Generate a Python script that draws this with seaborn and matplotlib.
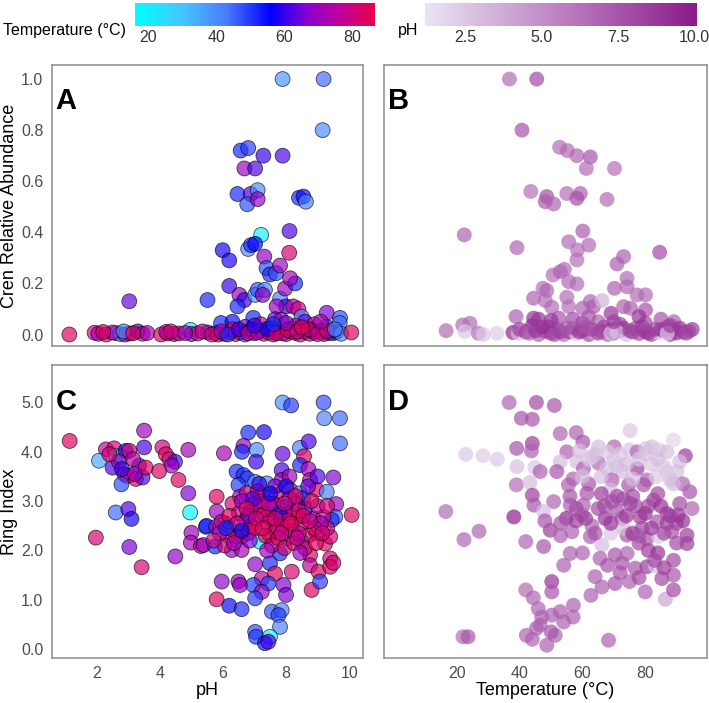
import numpy as np
import pandas as pd
import matplotlib
matplotlib.use("Agg")
import matplotlib.pyplot as plt
from matplotlib.colors import LinearSegmentedColormap, Normalize
from matplotlib.cm import ScalarMappable
import seaborn as sns

# panel A: pH vs cren relative abundance, coloured by temperature
ph_a = [7.89, 9.19, 9.16, 6.56, 6.80, 7.28, 7.89, 6.68, 7.02, 6.46, 6.88, 7.10, 6.77, 7.10, 8.41, 8.55, 8.63,
        7.21, 8.11, 5.99, 6.20, 6.80, 6.89, 7.02, 7.31, 8.10, 7.38, 7.49, 7.68, 7.81, 6.20, 5.51, 3.03, 6.52,
        6.68, 6.46, 7.02, 7.10, 7.33, 7.26, 7.81, 7.97, 8.29, 8.13, 8.00, 8.23, 8.39, 7.70, 9.29, 9.71, 8.49,
        5.94, 6.30, 6.96, 7.65, 7.85, 8.60, 9.28, 9.70, 7.20, 6.70, 8.30, 8.90,
        1.13, 1.93, 2.05, 2.30, 2.61, 2.75, 2.90, 3.05, 3.30, 3.45, 3.60, 4.04, 4.25, 4.45, 4.60, 4.97, 5.00,
        5.52, 5.75, 5.85, 6.05, 6.25, 6.40, 6.55, 6.70, 6.85, 7.00, 7.16, 7.30, 7.45, 7.60, 7.75, 7.90, 8.01,
        8.15, 8.30, 8.45, 8.60, 8.75, 8.90, 9.05, 9.20, 9.35, 9.49, 9.60, 9.75, 10.07, 6.90, 7.50, 8.20, 8.80,
        6.30, 5.20, 4.20, 2.50,
        2.20, 2.85, 3.15, 4.35, 4.80, 5.35, 5.65, 5.95, 6.15, 6.50, 6.80, 7.10, 7.40, 7.70, 8.05, 8.35, 8.70,
        9.00, 9.30, 9.55, 7.00, 8.00, 8.50, 7.60, 9.10]
cren_a = [1.00, 1.00, 0.80, 0.72, 0.73, 0.70, 0.70, 0.65, 0.65, 0.55, 0.55, 0.565, 0.51, 0.53, 0.535, 0.54, 0.52,
          0.39, 0.405, 0.33, 0.29, 0.335, 0.35, 0.355, 0.305, 0.32, 0.26, 0.235, 0.24, 0.27, 0.19, 0.135, 0.13, 0.155,
          0.135, 0.11, 0.155, 0.175, 0.175, 0.155, 0.14, 0.18, 0.20, 0.22, 0.11, 0.11, 0.10, 0.11, 0.085, 0.065, 0.07,
          0.045, 0.05, 0.065, 0.06, 0.057, 0.05, 0.03, 0.045, 0.04, 0.03, 0.035, 0.04,
          0.0, 0.007, 0.003, 0.0, 0.005, 0.002, 0.0, 0.004, 0.012, 0.003, 0.006, 0.0, 0.004, 0.002, 0.004, 0.018, 0.002,
          0.008, 0.005, 0.0, 0.003, 0.01, 0.002, 0.008, 0.0, 0.012, 0.005, 0.015, 0.003, 0.008, 0.0, 0.01, 0.004, 0.002,
          0.012, 0.006, 0.0, 0.01, 0.003, 0.008, 0.012, 0.002, 0.006, 0.005, 0.01, 0.003, 0.008, 0.02, 0.025, 0.022, 0.018,
          0.02, 0.004, 0.01, 0.008,
          0.01, 0.012, 0.005, 0.012, 0.006, 0.012, 0.0, 0.012, 0.0, 0.02, 0.005, 0.008, 0.022, 0.005, 0.018, 0.012, 0.02,
          0.002, 0.015, 0.02, 0.035, 0.045, 0.028, 0.04, 0.05]
temp_a = [38, 45, 40, 52, 50, 60, 62, 70, 62, 52, 62, 40, 48, 68, 52, 55, 42,
          20, 62, 58, 58, 40, 52, 55, 68, 82, 48, 52, 48, 70, 60, 52, 64, 70,
          60, 52, 38, 48, 42, 68, 42, 70, 52, 72, 60, 75, 80, 70, 66, 48, 42,
          52, 55, 52, 62, 70, 62, 60, 45, 78, 65, 72, 80,
          84, 82, 68, 80, 38, 35, 68, 78, 62, 78, 72, 84, 84, 70, 78, 20, 66,
          52, 52, 80, 78, 70, 84, 75, 50, 82, 82, 78, 84, 72, 80, 60, 84, 70,
          80, 84, 78, 82, 78, 84, 82, 75, 84, 52, 55, 40, 84, 55, 66, 84, 62,
          82, 78, 75, 72,
          84, 40, 84, 82, 72, 78, 84, 72, 52, 60, 78, 70, 55, 84, 84, 78, 84,
          80, 82, 42, 60, 66, 84, 52, 72]

# panel B: temperature vs cren relative abundance, coloured by pH
temp_b = [36.7, 45.4, 40.7, 52.7, 55.2, 58.2, 62.5, 61.2, 70.2, 43.5, 48.6, 48.1, 50.8, 55.0, 59.3, 58.2, 67.8,
          22.3, 39.1, 60.1, 55.6, 62.0, 58.4, 58.2, 73.1, 71.0, 84.6, 50.6, 52.9, 54.2, 55.6, 58.2, 47.4, 48.6,
          44.4, 48.1, 50.2, 55.0, 55.6, 74.2, 74.2, 70.2, 77.4, 80.1, 62.5, 60.1, 63.5, 66.2, 69.1, 73.1, 75.3,
          80.1, 38.8, 44.4, 52.4, 57.0, 89.1, 65.0, 72.0, 85.0,
          16.5, 21.8, 24.1, 22.5, 26.8, 28.4, 32.7, 37.8, 39.5, 42.0, 44.0, 46.0, 48.0, 50.0, 52.0, 54.0, 56.0,
          58.0, 60.0, 62.0, 64.0, 66.0, 68.0, 70.0, 72.0, 74.0, 76.0, 78.0, 80.0, 82.0, 84.0, 86.0, 88.0, 90.0,
          92.0, 94.0, 47.0, 57.0, 67.0, 77.0, 87.0, 63.0, 73.0, 83.0,
          40.0, 43.0, 45.0, 49.0, 51.0, 53.0, 55.0, 59.0, 61.0, 65.0, 69.0, 71.0, 75.0, 79.0, 81.0, 85.0, 89.0,
          91.0, 93.0, 95.0, 87.0, 69.0, 46.0, 50.0, 60.0, 70.0, 80.0, 78.0, 88.0, 62.0]
cren_b = [1.00, 1.00, 0.80, 0.733, 0.72, 0.70, 0.695, 0.65, 0.65, 0.56, 0.54, 0.52, 0.511, 0.552, 0.552, 0.533, 0.529,
          0.39, 0.34, 0.405, 0.363, 0.35, 0.331, 0.292, 0.305, 0.276, 0.322, 0.233, 0.246, 0.255, 0.207, 0.198, 0.181, 0.172,
          0.142, 0.133, 0.107, 0.146, 0.109, 0.22, 0.187, 0.181, 0.155, 0.155, 0.129, 0.103, 0.109, 0.133, 0.083, 0.109, 0.103,
          0.096, 0.07, 0.064, 0.064, 0.06, 0.05, 0.05, 0.04, 0.06,
          0.015, 0.037, 0.044, 0.012, 0.005, 0.0, 0.005, 0.008, 0.005, 0.01, 0.035, 0.0, 0.012, 0.005, 0.02, 0.0, 0.01,
          0.003, 0.015, 0.0, 0.008, 0.012, 0.0, 0.006, 0.015, 0.0, 0.01, 0.004, 0.012, 0.0, 0.008, 0.015, 0.0, 0.006,
          0.01, 0.012, 0.03, 0.025, 0.03, 0.025, 0.03, 0.02, 0.025, 0.02,
          0.02, 0.005, 0.015, 0.03, 0.0, 0.01, 0.025, 0.01, 0.03, 0.005, 0.02, 0.01, 0.015, 0.03, 0.005, 0.02, 0.015,
          0.025, 0.005, 0.02, 0.005, 0.005, 0.06, 0.055, 0.045, 0.05, 0.045, 0.07, 0.035, 0.07]
ph_b = [6.5, 8.0, 7.5, 6.5, 6.5, 6.8, 7.5, 6.5, 6.3, 6.3, 7.8, 7.2, 6.8, 6.3, 7.0, 7.8, 6.5,
        6.8, 6.8, 7.2, 6.5, 6.5, 6.3, 6.3, 7.0, 7.0, 8.0, 6.3, 7.0, 6.5, 6.5, 6.5, 6.3, 6.8,
        6.8, 6.5, 6.5, 6.5, 6.3, 6.5, 6.8, 7.0, 6.5, 6.5, 6.8, 6.8, 7.2, 3.5, 9.0, 7.0, 7.0,
        7.5, 7.0, 9.0, 7.5, 8.0, 7.0, 7.0, 8.0, 7.5,
        6.5, 6.5, 6.5, 2.5, 6.3, 2.5, 2.3, 9.5, 3.0, 8.0, 9.5, 7.0, 8.0, 9.0, 7.5, 6.5, 8.5,
        2.5, 7.5, 8.0, 3.0, 8.5, 7.0, 9.0, 8.0, 2.8, 8.5, 8.0, 9.0, 7.5, 3.0, 8.5, 8.0, 9.0,
        8.5, 7.5, 9.5, 7.0, 8.5, 8.0, 8.0, 8.5, 9.0, 8.0,
        8.5, 7.0, 8.8, 9.0, 8.0, 8.5, 7.5, 9.0, 7.5, 8.0, 8.5, 3.0, 8.0, 8.5, 8.8, 8.5, 8.0,
        9.0, 8.0, 8.5, 2.5, 2.8, 8.8, 9.0, 8.0, 8.5, 8.0, 9.0, 8.5, 7.5]

# panel C: pH vs ring index, coloured by temperature
ph_c = [1.14, 2.29, 2.55, 2.07, 2.60, 2.76, 2.92, 3.03, 3.50, 3.50, 2.50, 2.87, 2.97, 3.24, 3.34, 3.45, 3.55,
        2.78, 2.70, 3.15, 4.08, 4.19, 4.30, 4.48, 4.37, 3.98, 4.59, 4.90, 4.90, 4.96, 2.60, 3.00, 3.10, 1.97,
        3.03, 3.42, 4.49, 5.00, 4.98, 5.30, 5.46,
        7.89, 8.16, 9.19, 9.21, 9.71, 9.71, 6.80, 7.30, 6.65, 6.60, 6.03, 7.07, 7.05, 7.89, 8.44, 8.72, 8.57,
        8.44, 8.71, 8.76, 9.50, 7.86, 7.86, 8.11, 6.43, 6.65, 6.77, 6.49, 7.02, 7.39, 5.80, 6.54, 6.75, 7.23,
        7.70, 8.13, 8.44, 8.55, 8.97, 9.29, 9.59, 10.08, 9.56, 9.45, 8.00, 7.49, 7.02, 6.91, 5.80, 5.48, 5.78,
        6.06, 5.96, 6.22, 6.59, 6.80, 7.17, 7.55, 7.86, 8.39, 8.87, 9.19, 7.17, 5.38, 5.75, 6.28, 6.59, 7.49,
        7.81, 8.02, 8.50, 8.97, 9.24, 9.40, 8.76, 9.40, 8.76, 9.03, 9.40, 7.02, 7.49, 8.18, 7.65, 5.96, 6.49,
        6.54, 7.23, 7.44, 7.92, 6.96, 7.23, 7.02, 8.00, 8.81, 9.08, 5.80, 6.20, 6.59, 7.55, 7.86, 7.76, 7.81,
        7.02, 7.05, 7.49, 7.33, 7.44,
        6.30, 6.50, 6.70, 6.90, 7.10, 7.30, 7.40, 7.60, 7.70, 7.90, 8.10, 8.20, 8.30, 8.50, 8.60, 8.70, 8.90,
        9.00, 9.30, 6.40, 6.60, 6.80, 7.00, 7.20, 7.35, 7.55, 7.75, 7.95, 8.10, 8.25, 8.40, 8.60, 6.15, 6.05,
        5.90, 7.65, 8.00, 8.30, 7.10, 6.95, 9.10, 9.30, 8.80, 7.80, 8.05, 8.40,
        6.20, 6.45, 6.75, 7.05, 7.25, 7.45, 7.65, 7.85, 8.15, 8.35, 8.55, 8.75, 8.95, 9.15, 6.35, 6.85, 7.40,
        8.45, 7.95, 7.15, 7.50, 8.70, 9.00, 6.60, 5.70, 9.50, 6.10, 2.40, 2.80, 3.20]
ring_c = [4.22, 4.05, 4.07, 3.82, 3.92, 3.90, 4.02, 4.02, 4.43, 4.09, 3.68, 3.55, 3.51, 3.45, 3.72, 3.48, 3.68,
          3.34, 3.80, 3.85, 4.09, 3.95, 3.85, 3.80, 3.72, 3.61, 3.43, 4.04, 3.16, 2.77, 2.77, 2.84, 2.64, 2.26,
          2.07, 1.66, 1.88, 2.36, 2.16, 2.09, 2.48,
          5.00, 4.94, 5.00, 4.68, 4.68, 4.17, 4.39, 4.40, 4.12, 4.00, 3.97, 4.04, 3.80, 3.96, 4.08, 4.21, 3.91,
          3.73, 3.65, 3.43, 3.48, 3.63, 3.43, 3.50, 3.60, 3.53, 3.46, 3.33, 3.39, 3.36, 3.09, 3.09, 3.16, 3.12,
          3.12, 3.23, 3.16, 3.06, 3.23, 3.19, 2.94, 2.72, 2.68, 2.62, 2.89, 2.85, 2.85, 2.92, 2.79, 2.50, 2.48,
          2.55, 2.58, 2.45, 2.28, 2.35, 2.68, 2.62, 2.65, 2.68, 2.65, 2.68, 2.18, 2.11, 2.08, 2.01, 2.01, 2.31,
          1.94, 2.24, 2.18, 2.35, 2.14, 2.28, 1.91, 1.84, 1.70, 1.57, 1.67, 1.72, 1.74, 1.57, 1.53, 1.37, 1.37,
          1.30, 1.43, 1.33, 1.30, 1.30, 1.16, 1.03, 1.10, 1.20, 1.37, 1.01, 0.88, 0.81, 0.76, 0.79, 0.69, 0.45,
          0.35, 0.25, 0.25, 0.12, 0.15,
          2.95, 2.75, 2.60, 2.50, 2.90, 2.75, 2.55, 2.95, 2.40, 2.50, 2.75, 2.40, 2.95, 2.55, 2.85, 2.30, 2.45,
          2.90, 2.45, 2.30, 3.00, 2.70, 2.45, 3.00, 2.30, 2.10, 2.25, 2.05, 3.05, 2.15, 2.35, 2.05, 2.30, 2.10,
          2.35, 3.30, 3.30, 3.10, 3.20, 3.05, 2.55, 2.90, 3.00, 2.75, 2.60, 2.80,
          2.70, 2.55, 2.85, 2.65, 2.45, 2.95, 2.65, 2.35, 2.55, 2.25, 2.70, 2.60, 2.15, 2.35, 2.15, 2.20, 2.00,
          1.95, 2.95, 3.35, 3.15, 3.30, 3.50, 2.40, 2.20, 1.75, 2.45, 3.95, 3.65, 3.55]
temp_c = [84, 78, 82, 35, 30, 35, 58, 82, 70, 62, 62, 68, 80, 84, 64, 62, 84,
          48, 70, 75, 80, 84, 80, 62, 70, 84, 84, 72, 66, 18, 45, 62, 58, 82,
          65, 82, 68, 70, 72, 78, 52,
          40, 50, 48, 42, 45, 45, 52, 58, 68, 52, 72, 40, 60, 64, 42, 62, 84,
          52, 72, 72, 66, 62, 70, 72, 52, 52, 50, 50, 42, 42, 84, 72, 78, 70,
          84, 84, 42, 52, 84, 42, 70, 84, 45, 52, 55, 60, 84, 72, 70, 52, 70,
          80, 78, 52, 84, 84, 80, 84, 68, 84, 68, 78, 20, 70, 52, 70, 72, 84,
          52, 70, 52, 84, 84, 82, 84, 82, 76, 84, 84, 68, 52, 82, 84, 68, 70,
          70, 76, 50, 66, 50, 68, 50, 66, 84, 50, 84, 55, 52, 48, 42, 50, 42,
          48, 50, 20, 55, 62,
          82, 78, 84, 80, 76, 84, 80, 72, 84, 78, 80, 84, 72, 80, 60, 82, 84,
          76, 80, 84, 70, 62, 84, 78, 84, 80, 84, 82, 68, 84, 78, 84, 84, 80,
          72, 66, 55, 84, 84, 62, 72, 82, 84, 58, 84, 84,
          84, 78, 84, 80, 84, 78, 84, 80, 84, 78, 84, 80, 84, 82, 72, 66, 70,
          70, 80, 60, 55, 64, 62, 55, 80, 82, 52, 82, 60, 70]

# panel D: temperature vs ring index, coloured by pH
temp_d = [36.6, 45.3, 40.5, 44.0, 44.0, 39.0, 43.7, 22.8, 28.3, 32.8, 39.1, 44.8, 38.9, 43.2, 44.0, 44.5, 16.4,
          38.1, 27.0, 22.2, 41.9, 41.9, 44.3, 45.9, 21.9, 23.5, 42.1, 45.3,
          51.0, 52.9, 58.0, 60.1, 55.0, 59.0, 65.1, 70.1, 75.2, 75.0, 77.4, 80.3, 82.1, 84.3, 86.9, 89.0, 92.8,
          90.1, 52.9, 58.2, 60.3, 65.1, 67.8, 72.6, 77.4, 80.5, 83.5, 88.0, 46.5, 51.8, 55.5, 61.4, 69.4, 68.8,
          74.7, 79.5, 50.8, 56.1, 60.3, 69.4, 75.2, 82.7, 86.9, 90.6, 94.2, 94.9, 47.6, 54.8, 59.8, 67.2, 72.6,
          78.4, 83.7, 49.7, 56.6, 62.5, 66.2, 74.2, 80.5, 84.3, 88.5, 93.3, 93.3, 47.6, 56.1, 54.0, 65.6, 70.4,
          72.6, 74.2, 76.8, 80.5, 83.2, 85.3, 89.0, 89.0, 64.0, 66.2, 70.4, 75.0, 62.7, 80.0, 86.4, 89.0, 50.2,
          50.2, 57.1, 52.9, 50.2, 46.5, 51.3, 48.6, 68.3,
          53.0, 58.0, 63.0, 65.0, 71.0, 73.0, 77.0, 79.0, 81.0, 85.0, 87.0, 91.0, 62.0, 66.0, 71.0, 76.0, 82.0,
          86.0, 63.0, 57.0, 69.0, 78.0, 81.0, 76.0, 84.0, 90.0, 92.0, 66.0, 73.0,
          60.0, 62.0, 64.0, 68.0, 70.0, 72.0, 74.0, 78.0, 80.0, 84.0, 87.0, 89.0, 91.0,
          56.0, 58.0, 61.0, 64.0, 67.0, 69.0, 71.0, 74.0, 76.0, 78.0, 80.0, 82.0, 84.0, 86.0, 88.0, 90.0, 92.0,
          83.0, 86.0, 78.0, 72.0, 68.0, 60.0, 53.0, 48.0, 57.0, 54.0, 50.0, 44.0, 47.0]
ring_d = [5.00, 5.00, 4.68, 4.66, 4.17, 4.07, 4.02, 3.95, 3.92, 3.85, 3.70, 3.68, 3.33, 3.38, 3.12, 2.92, 2.79,
          2.68, 2.39, 2.22, 2.18, 1.20, 1.04, 0.82, 0.25, 0.25, 0.28, 0.42,
          4.94, 4.37, 4.39, 4.20, 4.00, 4.02, 4.10, 4.10, 4.43, 4.04, 4.00, 4.07, 4.10, 4.04, 4.00, 4.24, 3.92,
          3.60, 3.80, 3.80, 3.66, 3.77, 3.66, 3.60, 3.66, 3.43, 3.50, 3.43, 3.60, 3.60, 3.33, 3.16, 3.43, 3.23,
          3.33, 3.33, 2.99, 2.92, 2.92, 2.99, 2.95, 3.02, 2.75, 2.72, 3.19, 2.85, 2.79, 2.65, 2.72, 2.65, 2.65,
          2.68, 2.58, 2.41, 2.38, 2.28, 2.11, 2.31, 2.24, 2.28, 2.38, 2.31, 2.14, 2.08, 1.94, 1.70, 1.84, 1.91,
          1.74, 1.94, 1.64, 1.67, 1.69, 1.43, 1.80, 1.50, 1.47, 1.26, 1.33, 1.37, 1.09, 1.16, 1.01, 1.20, 1.37,
          1.16, 0.89, 0.76, 0.69, 0.49, 0.28, 0.08, 0.18,
          2.55, 2.60, 2.50, 2.85, 2.80, 2.45, 2.90, 2.45, 2.90, 2.90, 2.55, 2.95, 3.35, 3.50, 3.70, 3.45, 3.75,
          3.70, 3.90, 3.45, 2.35, 2.15, 2.00, 2.35, 1.95, 2.55, 3.35, 3.15, 3.05,
          3.50, 3.85, 3.95, 4.00, 3.85, 3.95, 3.75, 3.85, 3.95, 3.85, 3.60, 3.35, 3.80,
          3.10, 2.85, 2.65, 2.35, 2.90, 2.55, 3.10, 2.70, 3.10, 2.30, 2.75, 2.45, 3.15, 2.35, 2.70, 2.15, 2.60,
          1.80, 1.65, 1.45, 1.55, 1.70, 1.95, 2.30, 2.60, 0.65, 0.55, 0.35, 0.20, 0.65]
ph_d = [6.8, 8.0, 7.5, 7.5, 8.5, 7.5, 7.0, 2.5, 2.3, 2.5, 2.8, 2.5, 6.5, 3.0, 8.5, 7.5, 6.5,
        9.8, 6.8, 6.8, 6.8, 6.5, 6.8, 6.8, 6.5, 7.5, 6.8, 7.0,
        7.5, 6.8, 7.0, 7.5, 7.0, 3.0, 3.0, 6.8, 2.5, 2.5, 6.8, 2.8, 3.0, 2.5, 3.0, 1.8, 8.5,
        2.8, 3.0, 3.0, 7.0, 6.5, 3.0, 3.0, 8.5, 7.0, 2.5, 3.0, 7.0, 7.5, 7.0, 7.5, 7.0, 3.0,
        7.5, 7.5, 6.8, 7.0, 7.0, 8.5, 8.5, 8.5, 8.5, 9.0, 7.5, 6.8, 3.0, 9.5, 7.0, 9.0, 7.0,
        8.5, 7.5, 8.5, 7.0, 7.0, 3.0, 7.5, 7.5, 2.5, 7.5, 8.5, 8.5, 7.5, 7.0, 7.0, 7.0, 7.5,
        7.5, 7.0, 7.5, 8.5, 3.0, 8.0, 8.0, 7.5, 7.0, 7.0, 7.5, 7.0, 7.0, 7.0, 4.0, 8.0, 9.0,
        7.5, 7.0, 7.0, 7.0, 7.0, 7.0, 7.0, 7.0,
        7.5, 8.5, 7.0, 8.0, 7.5, 3.0, 8.0, 8.0, 8.0, 9.0, 8.5, 8.0, 7.5, 3.0, 2.8, 3.0, 2.5,
        2.5, 2.5, 7.0, 2.5, 8.0, 8.5, 9.0, 9.0, 8.0, 6.8, 8.5, 8.0,
        3.0, 2.5, 3.0, 2.5, 2.8, 2.5, 3.0, 2.5, 2.8, 3.0, 2.5, 3.0, 3.0,
        7.5, 8.0, 8.5, 7.5, 8.0, 9.0, 8.0, 8.5, 8.0, 7.5, 9.0, 8.5, 8.0, 8.0, 8.5, 8.0, 9.0,
        8.0, 8.5, 8.0, 7.5, 7.5, 7.0, 7.0, 7.5, 7.0, 7.0, 7.5, 7.0, 7.0]

temp_ticks = [20, 40, 60, 80]
ph_ticks = [2.5, 5.0, 7.5, 10.0]

sns.set_style("white")
plt.rcParams['font.family'] = ['Liberation Sans', 'DejaVu Sans']
plt.rcParams['text.color'] = 'black'
plt.rcParams['axes.labelcolor'] = 'black'

temp_cmap = LinearSegmentedColormap.from_list(
    "temp", [(0.0, "#00FFFF"), (0.2, "#45C4FF"), (0.38, "#4A7BFF"), (0.565, "#0000FF"),
             (0.72, "#8A00D0"), (0.86, "#C0009A"), (1.0, "#E8004A")])
ph_cmap = LinearSegmentedColormap.from_list("ph", ["#E8E5F3", "#BC80C1", "#8B1A8A"])
temp_norm = Normalize(16.1, 86.7)
ph_norm = Normalize(1.17, 10.08)

W, H = 709, 703
fig = plt.figure(figsize=(W / 100, H / 100), dpi=100)


def box(l, t, r, b):
    return [l / W, 1 - b / H, (r - l) / W, (b - t) / H]


ax_a = fig.add_axes(box(51.7, 65, 362.7, 346))
ax_b = fig.add_axes(box(384, 65, 706.7, 346))
ax_c = fig.add_axes(box(51.7, 365, 362.7, 658))
ax_d = fig.add_axes(box(384, 365, 706.7, 658))

grey = "#4D4D4D"
size = 115

sns.scatterplot(x=ph_a, y=cren_a, hue=temp_a, palette=temp_cmap, hue_norm=temp_norm, legend=False,
                s=size, alpha=0.68, edgecolor="black", linewidth=0.6, ax=ax_a)
sns.scatterplot(x=temp_b, y=cren_b, hue=ph_b, palette=ph_cmap, hue_norm=ph_norm, legend=False,
                s=size, alpha=0.7, edgecolor="none", linewidth=0, ax=ax_b)
sns.scatterplot(x=ph_c, y=ring_c, hue=temp_c, palette=temp_cmap, hue_norm=temp_norm, legend=False,
                s=size, alpha=0.68, edgecolor="black", linewidth=0.6, ax=ax_c)
sns.scatterplot(x=temp_d, y=ring_d, hue=ph_d, palette=ph_cmap, hue_norm=ph_norm, legend=False,
                s=size, alpha=0.7, edgecolor="none", linewidth=0, ax=ax_d)

for ax in [ax_a, ax_c]:
    ax.set_xlim(0.57, 10.43)
    ax.set_xticks([2, 4, 6, 8, 10])
for ax in [ax_b, ax_d]:
    ax.set_xlim(-3.3, 99.6)
    ax.set_xticks([20, 40, 60, 80])
for ax in [ax_a, ax_b]:
    ax.set_ylim(-0.045, 1.055)
    ax.set_yticks([0.0, 0.2, 0.4, 0.6, 0.8, 1.0])
for ax in [ax_c, ax_d]:
    ax.set_ylim(-0.18, 5.76)
    ax.set_yticks([0, 1, 2, 3, 4, 5])

for ax, letter in zip([ax_a, ax_b, ax_c, ax_d], "ABCD"):
    for sp in ax.spines.values():
        sp.set_color("#8C8C8C")
        sp.set_linewidth(1.1)
    ax.tick_params(length=4, width=0.9, color="#6E6E6E", labelsize=11.5, labelcolor=grey, pad=2)
    ax.set_xlabel("")
    ax.set_ylabel("")
    ax.text(0.012, 0.845, letter, transform=ax.transAxes, fontsize=21, fontweight="bold",
            color="black", ha="left", va="baseline")

ax_a.set_xticklabels([])
ax_b.set_xticklabels([])
ax_b.set_yticklabels([])
ax_d.set_yticklabels([])
ax_a.set_yticklabels(["0.0", "0.2", "0.4", "0.6", "0.8", "1.0"])
ax_c.set_yticklabels(["0.0", "1.0", "2.0", "3.0", "4.0", "5.0"])

ax_a.set_ylabel("Cren Relative Abundance", fontsize=13, color="black")
ax_c.set_ylabel("Ring Index", fontsize=13, color="black")
ax_c.set_xlabel("pH", fontsize=13, color="black")
ax_d.set_xlabel("Temperature (°C)", fontsize=13, color="black")
ax_a.yaxis.set_label_coords(-0.108, 0.5)
ax_c.yaxis.set_label_coords(-0.108, 0.5)
ax_c.xaxis.set_label_coords(0.5, -0.082)
ax_d.xaxis.set_label_coords(0.5, -0.082)

# colour bars on top
cax_t = fig.add_axes(box(135, 3, 374.7, 26))
cax_p = fig.add_axes(box(425, 3, 697, 26))
cb_t = fig.colorbar(ScalarMappable(norm=temp_norm, cmap=temp_cmap), cax=cax_t, orientation="horizontal")
cb_p = fig.colorbar(ScalarMappable(norm=ph_norm, cmap=ph_cmap), cax=cax_p, orientation="horizontal")
cb_t.set_ticks(temp_ticks)
cb_t.set_ticklabels([str(t) for t in temp_ticks])
cb_p.set_ticks(ph_ticks)
cb_p.set_ticklabels(["2.5", "5.0", "7.5", "10.0"])
for cb in [cb_t, cb_p]:
    cb.outline.set_visible(False)
    cb.ax.tick_params(direction="in", length=4, width=0.8, color="white", labelsize=11.5,
                      labelcolor="#333333", pad=3)

fig.text(126 / W, 1 - 30 / H, "Temperature (°C)", ha="right", va="center", fontsize=11.5, color="black")
fig.text(398 / W, 1 - 30 / H, "pH", ha="left", va="center", fontsize=11.5, color="black")

fig.savefig("out.png", dpi=100)
